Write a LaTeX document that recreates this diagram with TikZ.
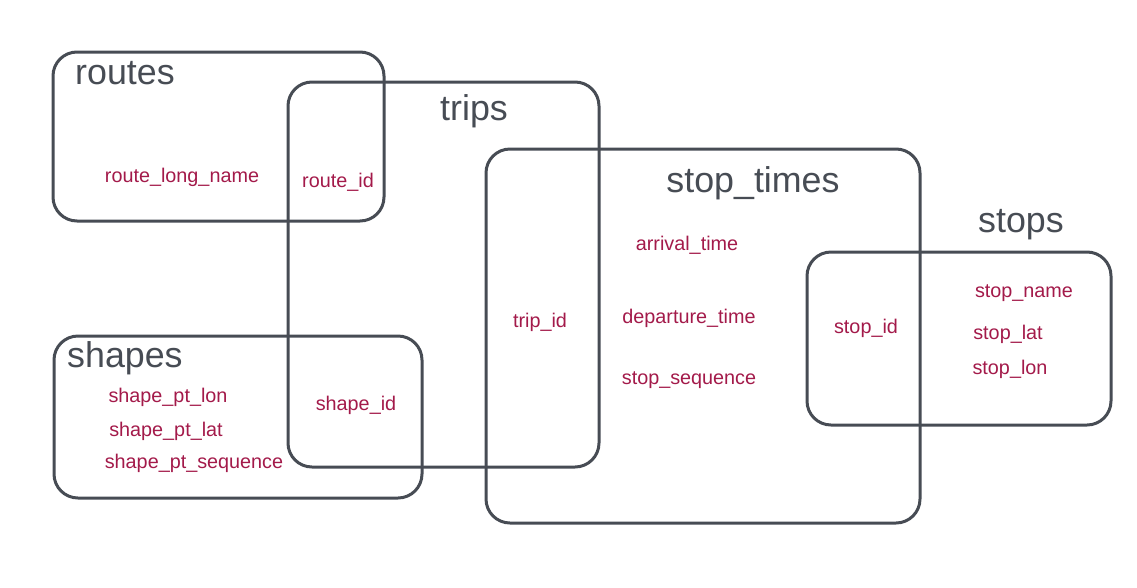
\documentclass[tikz,border=0pt]{standalone}
\usepackage{fontspec}
\setmainfont{Liberation Sans}
\definecolor{linegray}{HTML}{474C54}
\definecolor{fieldred}{HTML}{A31A4A}
\begin{document}
\begin{tikzpicture}[x=1pt,y=-1pt,
  tablebox/.style={draw=linegray,line width=3pt,rounded corners=24pt,fill=none},
  title/.style={text=linegray,font=\fontsize{35.8}{38}\selectfont,inner sep=0pt},
  field/.style={text=fieldred,font=\fontsize{19.8}{22}\selectfont,inner sep=0pt}]
\useasboundingbox (0,0) rectangle (1137,587);
% boxes
\draw[tablebox] (53,52) rectangle (384,221);
\draw[tablebox] (288,82) rectangle (599,467);
\draw[tablebox] (486,149) rectangle (920,523);
\draw[tablebox] (807,252) rectangle (1111,425);
\draw[tablebox] (54,336) rectangle (422,498);
% titles
\node[title,anchor=west] (troutes) at (75,73) {routes};
\node[title] (ttrips) at (474,111) {trips};
\node[title] (tstoptimes) at (753,183) {stop\_times};
\node[title] (tstops) at (1021,225) {stops};
\node[title,anchor=west] (tshapes) at (67,358) {shapes};
% fields
\node[field] (f1) at (182,177) {route\_long\_name};
\node[field] (f2) at (338,182) {route\_id};
\node[field] (f3) at (540,322) {trip\_id};
\node[field] (f4) at (687,245) {arrival\_time};
\node[field] (f5) at (689,318) {departure\_time};
\node[field] (f6) at (689,380) {stop\_sequence};
\node[field] (f7) at (866,328) {stop\_id};
\node[field] (f8) at (1024,293) {stop\_name};
\node[field] (f9) at (1008,334) {stop\_lat};
\node[field] (f10) at (1010,369) {stop\_lon};
\node[field] (f11) at (168,397) {shape\_pt\_lon};
\node[field] (f12) at (166,431) {shape\_pt\_lat};
\node[field] (f13) at (194,463) {shape\_pt\_sequence};
\node[field] (f14) at (356,405) {shape\_id};
\end{tikzpicture}
\end{document}
